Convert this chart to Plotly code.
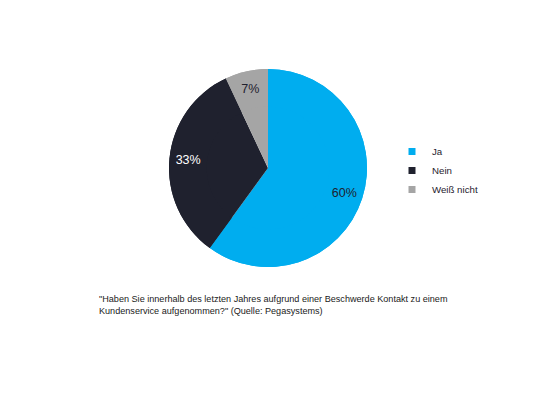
import plotly.graph_objects as go

# data
labels = ["Ja", "Nein", "Weiß nicht"]
values = [60, 33, 7]
colors = ["#00adef", "#1f212e", "#a5a5a5"]
text_colors = ["#1f212e", "#ffffff", "#1f212e"]
caption = ('"Haben Sie innerhalb des letzten Jahres aufgrund einer Beschwerde Kontakt zu einem<br>'
           'Kundenservice aufgenommen?" (Quelle: Pegasystems)')

W, H = 556, 417
FONT = "Liberation Sans, Arial, sans-serif"

# pie placement (figure pixels)
cx, cy, r = 260, 160, 99
dom = dict(x=[(cx - r) / W, (cx + r) / W], y=[1 - (cy + r) / H, 1 - (cy - r) / H])

fig = go.Figure()
# full pie underneath (fills the centre)
fig.add_trace(go.Pie(
    labels=labels, values=values,
    sort=False, direction="clockwise", rotation=0,
    marker=dict(colors=colors, line=dict(width=0)),
    textinfo="none", showlegend=False, hoverinfo="skip",
    domain=dom,
))
# ring on top carries the labels, so they sit out near the rim
fig.add_trace(go.Pie(
    labels=labels, values=values, hole=0.62,
    sort=False, direction="clockwise", rotation=0,
    marker=dict(colors=colors, line=dict(width=0)),
    texttemplate="%{percent:.0%}",
    textposition="inside", insidetextorientation="horizontal",
    insidetextfont=dict(color=text_colors, size=12.5, family=FONT),
    domain=dom, showlegend=False,
    hoverinfo="label+percent",
))
# legend-only copy: white outline makes the legend squares small
fig.add_trace(go.Pie(
    labels=labels, values=values, sort=False,
    marker=dict(colors=colors, line=dict(color="white", width=5)),
    textinfo="none", hoverinfo="skip",
    domain=dict(x=[0.999, 1], y=[0, 0.001]),
))

fig.add_annotation(
    text=caption, xref="paper", yref="paper",
    x=89 / W, y=1 - 284 / H, xanchor="left", yanchor="top",
    align="left", showarrow=False,
    font=dict(size=9.1, color="#1a1a1a", family=FONT),
)

fig.update_layout(
    width=W, height=H,
    margin=dict(l=0, r=0, t=0, b=0),
    paper_bgcolor="white", plot_bgcolor="white",
    font=dict(family=FONT, color="#1f212e"),
    showlegend=True,
    legend=dict(
        x=384 / W, y=1 - 129 / H, xanchor="left", yanchor="top",
        font=dict(size=9.7, color="#1f212e", family=FONT),
        itemwidth=30, tracegroupgap=0, bgcolor="rgba(0,0,0,0)",
    ),
)

fig.write_html("out.html")
